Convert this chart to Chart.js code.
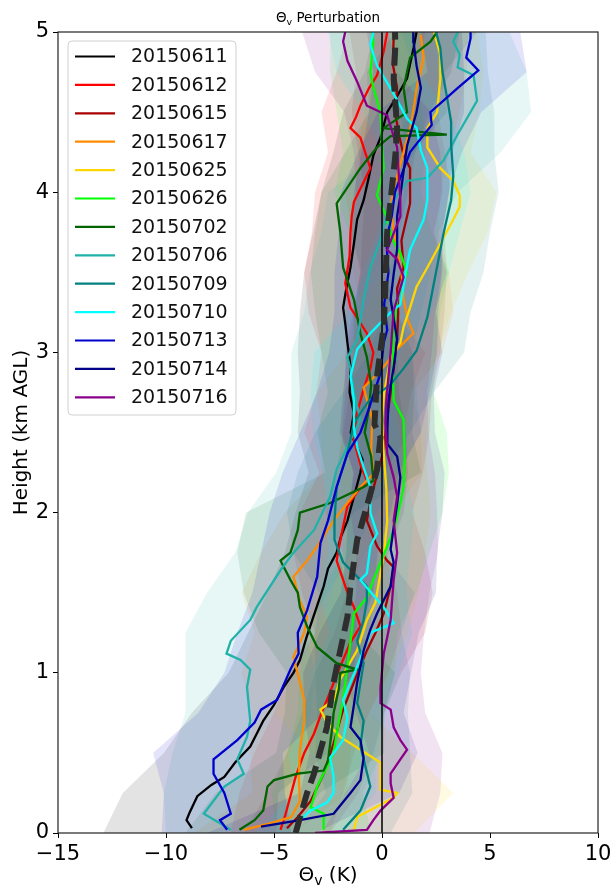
<!DOCTYPE html>
<html>
<head>
<meta charset="utf-8">
<script src="https://cdn.jsdelivr.net/npm/chart.js@4.4.1/dist/chart.umd.min.js"></script>
<style>
  html, body { margin: 0; padding: 0; background: #fff; }
</style>
</head>
<body>
<canvas id="profile" width="612" height="885"></canvas>
<script>
// series names / colours
var names = ["20150611", "20150612", "20150615", "20150617", "20150625", "20150626", "20150702",
             "20150706", "20150709", "20150710", "20150713", "20150714", "20150716"];
var colors = ["#000000", "#ff0000", "#a80000", "#ff8c00", "#ffd700", "#00ff00", "#006400",
              "#20b2aa", "#008080", "#00ffff", "#0000cd", "#00008b", "#8b008b"];

// profiles: [theta_v perturbation (K), height (km)]
var p20150611 = [[-8.8,0.03],[-9.05,0.08],[-8.9,0.13],[-8.55,0.23],[-7.9,0.3],[-7.3,0.35],[-6.8,0.44],[-6.1,0.54],[-5.8,0.62],[-5.5,0.7],[-5.0,0.8],[-4.55,0.91],[-4.1,1.0],[-3.8,1.08],[-3.5,1.22],[-3.1,1.38],[-2.7,1.54],[-2.5,1.65],[-2.1,1.75],[-1.9,1.85],[-1.6,1.95],[-1.3,2.1],[-1.0,2.25],[-0.9,2.33],[-1.2,2.42],[-1.45,2.5],[-1.3,2.62],[-1.5,2.75],[-1.45,2.9],[-1.6,3.06],[-1.7,3.18],[-1.8,3.28],[-1.65,3.4],[-1.46,3.53],[-1.3,3.68],[-1.15,3.83],[-0.85,3.95],[-0.6,4.1],[-0.4,4.23],[-0.07,4.34],[0.24,4.5],[0.7,4.6],[1.16,4.71],[1.3,4.8],[1.46,4.9],[1.6,5.0]];
var p20150612 = [[-4.7,0.02],[-4.5,0.1],[-4.2,0.25],[-4.0,0.35],[-3.6,0.5],[-3.15,0.62],[-2.8,0.75],[-2.55,0.83],[-2.2,0.95],[-1.93,1.04],[-1.46,1.19],[-1.0,1.29],[-1.3,1.41],[-1.6,1.5],[-2.1,1.7],[-1.9,1.85],[-1.6,2.04],[-1.2,2.12],[-0.7,2.2],[-1.0,2.3],[-1.3,2.45],[-1.2,2.6],[-0.85,2.77],[-0.54,2.9],[-0.4,3.0],[-0.7,3.12],[-1.46,3.28],[-1.7,3.43],[-1.5,3.6],[-1.46,3.75],[-1.4,3.85],[-1.3,3.94],[-0.9,4.05],[-0.54,4.15],[-1.0,4.34],[-1.46,4.4],[-1.2,4.47],[-1.0,4.54],[-0.6,4.65],[-0.23,4.73],[0.08,4.88],[0.24,5.0]];
var p20150615 = [[-4.4,0.03],[-3.9,0.1],[-3.3,0.2],[-2.7,0.37],[-2.24,0.56],[-1.8,0.77],[-1.3,0.94],[-0.7,1.14],[-0.3,1.25],[0.08,1.37],[0.4,1.54],[0.54,1.66],[0.24,1.7],[-0.23,1.79],[-0.7,1.95],[-0.5,2.1],[-0.2,2.25],[0.1,2.4],[0.2,2.55],[0.35,2.7],[0.5,2.85],[0.7,3.08],[0.75,3.25],[0.7,3.4],[1.0,3.53],[0.9,3.7],[1.16,3.85],[1.3,3.93],[1.3,4.15],[1.0,4.23],[0.8,4.35],[0.6,4.5],[0.7,4.65],[0.5,4.8],[0.54,4.96]];
var p20150617 = [[-6.4,0.02],[-5.2,0.06],[-4.2,0.1],[-3.8,0.2],[-3.85,0.35],[-3.8,0.52],[-3.6,0.7],[-3.6,0.83],[-3.8,0.94],[-4.1,1.1],[-3.6,1.25],[-3.47,1.35],[-3.8,1.45],[-4.1,1.6],[-3.47,1.7],[-3.0,1.79],[-2.24,1.95],[-1.6,2.06],[-1.0,2.16],[-0.4,2.24],[-0.5,2.4],[-0.45,2.58],[-0.85,2.78],[0.08,2.91],[0.7,3.02],[1.46,3.12],[1.2,3.2],[1.0,3.33],[0.9,3.5],[0.7,3.64],[0.5,3.8],[0.4,3.92],[0.6,4.05],[0.9,4.2],[1.3,4.4],[1.5,4.55],[1.6,4.65],[1.93,4.84],[1.8,4.98]];
var p20150625 = [[-1.3,0.02],[-1.15,0.1],[0.54,0.22],[0.7,0.25],[-0.07,0.27],[-0.07,0.44],[-1.0,0.52],[-1.93,0.6],[-2.55,0.69],[-2.85,0.77],[-2.24,0.83],[-1.93,0.96],[-1.15,1.14],[-0.7,1.33],[-0.3,1.44],[-0.1,1.6],[0.1,1.75],[0.24,1.95],[0.2,2.15],[0.08,2.37],[0.0,2.58],[0.1,2.75],[0.4,2.97],[0.85,3.06],[1.0,3.16],[1.3,3.28],[1.6,3.41],[2.1,3.53],[2.7,3.68],[3.3,3.83],[3.6,3.91],[3.6,3.98],[3.3,4.07],[2.7,4.15],[2.1,4.28],[2.1,4.4],[2.55,4.5],[2.7,4.71],[2.7,4.86],[2.4,5.0]];
var p20150626 = [[-2.7,0.02],[-2.7,0.12],[-3.3,0.16],[-3.0,0.29],[-2.6,0.4],[-2.24,0.5],[-2.1,0.62],[-1.8,0.83],[-1.6,1.04],[-1.3,1.37],[-1.0,1.42],[-0.7,1.47],[-0.4,1.58],[0.24,1.79],[0.54,1.89],[0.85,2.06],[1.0,2.16],[1.05,2.35],[1.0,2.58],[0.54,2.7],[0.5,2.9],[0.54,3.12],[0.7,3.33],[1.16,3.5],[0.85,3.62],[0.5,3.7],[0.2,3.85],[-0.23,3.98],[0.08,4.15],[0.0,4.3],[-0.07,4.5],[-0.4,4.65],[-0.54,4.75],[-0.4,4.94],[-0.45,5.0]];
var p20150702 = [[-6.6,0.02],[-5.9,0.08],[-5.5,0.14],[-5.3,0.29],[-5.0,0.33],[-3.9,0.37],[-2.7,0.39],[-2.5,0.45],[-2.4,0.56],[-2.3,0.66],[-2.24,0.75],[-2.0,0.9],[-1.93,1.0],[-1.15,1.02],[-2.1,1.06],[-3.0,1.16],[-3.47,1.29],[-3.8,1.41],[-3.9,1.5],[-4.24,1.58],[-4.7,1.7],[-4.24,1.75],[-3.9,1.89],[-3.8,2.0],[-2.4,2.06],[-0.85,2.16],[-0.4,2.2],[-0.5,2.35],[-0.8,2.5],[-0.6,2.65],[-0.5,2.8],[-0.7,2.97],[-1.0,3.12],[-1.3,3.33],[-1.8,3.53],[-1.93,3.75],[-2.1,3.93],[-1.0,4.15],[-0.23,4.28],[0.4,4.35],[3.0,4.36],[0.08,4.4],[1.16,4.5],[1.0,4.65],[1.3,4.84],[2.24,4.94],[2.55,5.0]];
var p20150706 = [[-7.0,0.02],[-8.25,0.12],[-7.3,0.29],[-6.4,0.37],[-6.7,0.46],[-6.25,0.6],[-6.1,0.7],[-6.25,0.91],[-6.1,1.02],[-6.55,1.08],[-7.2,1.12],[-7.0,1.2],[-6.1,1.33],[-5.8,1.41],[-4.7,1.64],[-4.1,1.75],[-3.15,1.89],[-2.4,2.1],[-2.1,2.27],[-1.46,2.45],[-1.0,2.58],[-1.3,2.75],[-1.46,2.9],[-1.6,2.97],[-1.15,3.08],[-0.85,3.33],[-0.54,3.53],[-0.07,3.7],[0.3,3.9],[1.16,4.07],[2.1,4.09],[2.86,4.2],[3.5,4.36],[4.4,4.57],[4.24,4.73],[3.5,4.78],[3.6,4.86],[3.3,4.94],[3.5,5.0]];
var p20150709 = [[-1.8,0.02],[-1.0,0.14],[-0.54,0.29],[-0.85,0.46],[-1.0,0.54],[-0.85,0.7],[-1.15,0.81],[-0.85,1.06],[-1.15,1.2],[-0.85,1.33],[-0.7,1.45],[-0.7,1.54],[-1.15,1.6],[-1.8,1.69],[-2.2,1.83],[-2.2,1.95],[-2.1,2.16],[-1.6,2.37],[-1.3,2.56],[-0.6,2.7],[0.4,2.8],[1.0,2.9],[1.6,3.01],[2.1,3.22],[2.4,3.43],[2.86,3.75],[3.2,3.95],[3.3,4.1],[3.2,4.3],[3.2,4.44],[3.0,4.6],[2.8,4.75],[2.7,4.9],[2.5,5.0]];
var p20150710 = [[-3.9,0.02],[-3.8,0.08],[-3.3,0.14],[-2.55,0.19],[-2.24,0.25],[-2.24,0.35],[-2.4,0.47],[-1.8,0.58],[-1.6,0.72],[-1.8,0.83],[-1.15,1.04],[-0.54,1.25],[0.54,1.31],[0.08,1.41],[-0.5,1.5],[-1.0,1.58],[-0.7,1.62],[-0.54,1.79],[-0.23,1.87],[-0.54,2.0],[-0.54,2.16],[-0.85,2.28],[-1.15,2.41],[-1.3,2.53],[-1.3,2.7],[-1.46,2.85],[-1.15,3.02],[-0.54,3.12],[0.4,3.25],[0.85,3.3],[1.1,3.5],[1.3,3.64],[1.93,3.83],[2.1,3.95],[2.1,4.15],[1.8,4.26],[1.6,4.4],[1.16,4.46],[0.6,4.6],[-0.23,4.79],[-0.54,4.92],[-0.4,5.0]];
var p20150713 = [[-7.17,0.02],[-7.5,0.08],[-7.0,0.12],[-7.3,0.25],[-7.8,0.37],[-7.8,0.46],[-6.7,0.58],[-5.9,0.69],[-5.6,0.77],[-4.86,0.83],[-4.24,1.02],[-3.86,1.12],[-3.9,1.25],[-3.47,1.39],[-3.0,1.6],[-2.85,1.81],[-2.5,1.95],[-2.1,2.16],[-1.6,2.37],[-1.0,2.5],[-0.6,2.65],[-0.07,2.87],[0.08,3.06],[0.24,3.14],[0.1,3.3],[0.3,3.5],[0.2,3.7],[0.45,3.85],[0.6,4.0],[1.3,4.25],[2.3,4.42],[2.24,4.5],[3.5,4.65],[4.46,4.76],[3.9,4.84],[4.1,4.96],[4.1,5.0]];
var p20150714 = [[-5.6,0.04],[-3.8,0.08],[-2.24,0.12],[-1.46,0.25],[-1.0,0.33],[-0.85,0.47],[-1.0,0.58],[-1.46,0.66],[-1.3,0.8],[-1.15,0.94],[-0.85,1.14],[-0.54,1.27],[-0.23,1.37],[0.4,1.54],[0.54,1.69],[0.4,1.77],[0.54,1.91],[0.7,2.05],[0.85,2.22],[0.7,2.35],[0.24,2.43],[0.25,2.52],[0.3,2.7],[0.54,2.91],[0.7,3.08],[0.4,3.33],[0.55,3.5],[0.7,3.64],[0.7,3.85],[0.85,3.98],[1.0,4.13],[1.16,4.29],[1.6,4.5],[1.8,4.65],[1.6,4.79],[1.46,4.94],[1.45,5.0]];
var p20150716 = [[-3.1,0.0],[-0.7,0.02],[-0.4,0.08],[-0.07,0.14],[0.54,0.22],[0.4,0.31],[0.4,0.37],[0.85,0.46],[1.16,0.52],[0.85,0.58],[0.54,0.66],[0.4,0.77],[-0.07,0.81],[-0.07,0.91],[0.08,1.12],[0.24,1.22],[0.4,1.33],[0.54,1.58],[0.7,1.75],[0.54,1.95],[0.7,2.1],[0.54,2.22],[0.24,2.37],[0.16,2.56],[0.2,2.7],[0.4,3.0],[0.54,3.26],[1.0,3.47],[0.7,3.58],[0.24,3.64],[0.85,3.85],[0.85,3.95],[0.7,4.28],[0.24,4.48],[-0.7,4.54],[-1.15,4.69],[-1.6,4.82],[-1.8,4.94],[-1.7,5.0]];
var pMean = [[-4.0,0.0],[-3.47,0.25],[-3.15,0.37],[-2.55,0.66],[-2.24,0.94],[-1.93,1.14],[-1.6,1.35],[-1.46,1.54],[-1.15,1.83],[-0.7,2.04],[-0.23,2.27],[-0.07,2.47],[-0.35,2.55],[-0.23,2.85],[0.08,3.16],[0.16,3.43],[0.24,3.75],[0.4,3.95],[0.62,4.23],[0.7,4.4],[0.54,4.71],[0.62,4.92],[0.6,5.0]];
var profiles = [p20150611, p20150612, p20150615, p20150617, p20150625, p20150626, p20150702,
                p20150706, p20150709, p20150710, p20150713, p20150714, p20150716];

// shaded spread: centre and half width at these heights
var bandLevels = [0, 0.25, 0.5, 0.75, 1, 1.25, 1.5, 1.75, 2, 2.25, 2.5, 2.75, 3, 3.25, 3.5, 3.75, 4, 4.25, 4.5, 4.75, 5];
var bandMid = [
  [-8.9,-8.4,-6.3,-5.3,-4.1,-3.4,-2.8,-2.1,-1.5,-1.1,-1.4,-1.5,-1.6,-1.8,-1.5,-1.2,-0.8,-0.35,0.2,1.2,1.6],
  [-4.7,-4.2,-3.6,-2.8,-2.0,-1.1,-1.5,-2.0,-1.6,-0.9,-1.3,-0.85,-0.4,-1.4,-1.7,-1.45,-1.2,-0.8,-1.0,-0.2,0.2],
  [-4.4,-3.2,-2.4,-1.8,-1.1,-0.1,0.35,0.1,-0.6,-0.1,0.2,0.4,0.7,0.8,1.0,1.0,1.2,0.9,0.6,0.7,0.5],
  [-6.4,-3.8,-3.8,-3.6,-4.0,-3.6,-4.0,-3.2,-2.0,-0.45,-0.5,-0.8,0.6,1.2,0.9,0.6,0.5,1.0,1.4,1.8,1.8],
  [-1.3,0.7,-0.9,-2.8,-1.8,-0.9,-0.3,0.1,0.25,0.1,0.0,0.1,0.6,1.2,2.0,3.0,3.6,2.2,2.5,2.7,2.4],
  [-2.7,-3.0,-2.2,-1.9,-1.6,-1.4,-0.6,0.2,0.7,1.0,1.0,0.5,0.5,0.7,1.1,0.4,-0.2,0.1,-0.1,-0.5,-0.4],
  [-6.6,-5.3,-2.4,-2.2,-1.9,-3.4,-3.9,-4.4,-3.8,-0.4,-0.8,-0.5,-0.7,-1.2,-1.6,-1.5,-1.2,-0.1,1.2,1.1,2.5],
  [-7.0,-7.3,-6.7,-6.2,-6.1,-6.3,-5.3,-4.1,-3.2,-2.1,-1.2,-1.3,-1.4,-0.9,-0.55,-0.1,0.5,2.7,4.2,4.1,3.4],
  [-1.8,-0.6,-0.9,-0.9,-0.9,-1.1,-0.7,-2.0,-2.2,-1.9,-0.9,0.3,1.6,2.1,2.5,2.9,3.2,3.2,3.0,2.8,2.6],
  [-3.9,-2.2,-2.3,-1.7,-1.2,-0.5,-0.9,-0.6,-0.5,-0.85,-1.2,-1.4,-1.15,0.4,1.1,1.7,2.1,1.9,1.1,-0.2,-0.5],
  [-7.2,-7.3,-7.6,-5.6,-4.3,-3.9,-3.2,-2.9,-2.4,-1.9,-1.0,-0.4,0.05,0.2,0.3,0.4,0.6,1.3,2.2,4.4,4.1],
  [-5.6,-1.5,-0.85,-1.3,-1.15,-0.6,0.3,0.45,0.6,0.8,0.25,0.3,0.6,0.4,0.55,0.7,0.9,1.15,1.6,1.7,1.5],
  [-0.3,0.5,1.1,0.4,0.0,0.25,0.5,0.7,0.55,0.55,0.15,0.2,0.3,0.55,1.0,0.5,0.8,0.7,0.25,-1.2,-1.7]
];
var bandHalf = [
  [4.0,3.6,3.8,3.5,3.0,2.8,2.5,2.4,2.5,2.3,2.5,2.3,2.3,2.0,2.1,2.0,2.0,1.9,2.0,2.0,2.0],
  [2.3,2.4,2.3,2.2,2.3,2.0,2.2,2.1,2.2,2.0,2.3,2.2,2.4,2.0,1.9,1.8,1.9,1.7,1.8,1.9,1.8],
  [2.0,2.1,2.0,1.9,2.0,2.1,2.0,1.9,2.0,2.0,2.0,1.9,2.0,2.1,2.0,1.9,2.0,2.0,2.0,1.9,2.0],
  [2.3,2.2,2.3,2.4,2.5,2.3,2.5,2.4,2.5,2.3,2.3,2.2,2.2,2.1,2.2,2.0,2.2,2.1,2.2,2.1,2.2],
  [2.8,2.6,2.3,2.2,2.2,2.1,2.0,1.9,2.0,2.0,2.0,1.9,2.0,2.0,2.0,1.9,1.7,1.9,2.0,2.0,2.0],
  [2.2,2.1,2.2,2.0,2.2,2.1,2.2,2.0,2.1,2.1,2.0,1.9,2.0,2.0,2.0,1.9,2.0,1.9,2.0,1.9,2.0],
  [2.5,2.4,2.5,2.3,2.5,2.3,2.5,2.3,2.5,2.2,2.2,2.0,2.1,1.9,1.7,1.6,1.6,1.6,1.8,1.8,1.9],
  [3.0,2.8,3.0,2.9,3.0,2.8,2.8,2.7,3.0,2.8,3.0,2.9,2.8,2.7,2.8,2.7,3.0,2.8,2.7,2.6,2.5],
  [2.2,2.0,2.2,2.1,2.2,2.0,2.2,2.1,2.2,2.0,2.2,2.1,2.2,2.0,2.2,2.1,2.2,2.0,2.2,2.1,2.2],
  [2.0,1.9,2.0,1.9,2.0,1.9,2.0,1.9,2.0,1.9,2.0,1.9,2.0,1.9,2.0,1.9,2.0,1.9,2.0,1.9,2.0],
  [3.0,2.8,3.0,2.9,3.0,2.8,2.8,2.7,2.8,2.7,2.8,2.6,2.5,2.4,2.5,2.4,2.5,2.4,2.4,2.3,2.3],
  [2.5,2.3,2.5,2.3,2.5,2.3,2.2,2.1,2.2,2.1,2.2,2.1,2.2,2.1,2.2,2.1,2.2,2.1,2.2,2.1,2.2],
  [2.5,2.2,1.7,1.6,1.8,1.7,1.7,1.9,2.0,1.9,2.0,1.9,2.0,1.9,2.0,1.9,2.0,2.0,2.0,1.9,2.0]
];

var xTicks = [-15, -10, -5, 0, 5, 10];
var yTicks = [0, 1, 2, 3, 4, 5];

Chart.defaults.font.family = "'DejaVu Sans', sans-serif";
Chart.defaults.color = "#000";

function rgba(hex, a) {
  var n = parseInt(hex.slice(1), 16);
  return "rgba(" + (n >> 16) + "," + ((n >> 8) & 255) + "," + (n & 255) + "," + a + ")";
}
function toXY(arr) {
  return arr.map(function (p) { return {x: p[0], y: p[1]}; });
}
function bandShape(mid, half) {
  var pts = [];
  for (var i = 0; i < bandLevels.length; i++) pts.push({x: mid[i] - half[i], y: bandLevels[i]});
  for (var j = bandLevels.length - 1; j >= 0; j--) pts.push({x: mid[j] + half[j], y: bandLevels[j]});
  return pts;
}

var datasets = [];
// mean profile on top
datasets.push({label: "mean", data: toXY(pMean), showLine: true, borderColor: "#2e2e2e",
  borderWidth: 6, borderDash: [18, 8], pointRadius: 0, fill: false, order: 0});
datasets.push({label: "zero", data: [{x: 0, y: 0}, {x: 0, y: 5}], showLine: true, borderColor: "#000",
  borderWidth: 1.5, pointRadius: 0, fill: false, order: 1});
for (var i = 0; i < names.length; i++) {
  datasets.push({label: names[i], data: toXY(profiles[i]), showLine: true, borderColor: colors[i],
    borderWidth: 2.3, pointRadius: 0, fill: false, order: 40 - i});
}
for (var k = 0; k < names.length; k++) {
  datasets.push({label: "band" + k, data: bandShape(bandMid[k], bandHalf[k]), showLine: true,
    borderWidth: 0, borderColor: "rgba(0,0,0,0)", backgroundColor: rgba(colors[k], 0.11),
    pointRadius: 0, fill: "shape", order: 100 - k});
}

function subText(ctx, main, sub, rest, cx, base, size) {
  ctx.font = size + "px 'DejaVu Sans'";
  var w1 = ctx.measureText(main).width, w3 = ctx.measureText(rest).width;
  ctx.font = (size * 0.7) + "px 'DejaVu Sans'";
  var w2 = ctx.measureText(sub).width;
  var x = cx - (w1 + w2 + w3) / 2;
  ctx.fillStyle = "#000";
  ctx.textAlign = "left";
  ctx.textBaseline = "alphabetic";
  ctx.font = size + "px 'DejaVu Sans'";
  ctx.fillText(main, x, base);
  ctx.fillText(rest, x + w1 + w2, base);
  ctx.font = (size * 0.7) + "px 'DejaVu Sans'";
  ctx.fillText(sub, x + w1, base + size * 0.22);
}

var decorations = {
  id: "decorations",
  afterDraw: function (chart) {
    var ctx = chart.ctx, a = chart.chartArea;
    ctx.save();
    // frame
    ctx.strokeStyle = "#222";
    ctx.lineWidth = 1.2;
    ctx.strokeRect(a.left, a.top, a.right - a.left, a.bottom - a.top);
    // title and x label with subscripts
    var cx = (a.left + a.right) / 2;
    subText(ctx, "\u0398", "v", " Perturbation", cx, 22, 13.5);
    subText(ctx, "\u0398", "v", " (K)", cx, 881, 20);
    // legend
    var lx = 68, ly = 41, lw = 168, lh = 374, r = 4;
    ctx.beginPath();
    ctx.moveTo(lx + r, ly);
    ctx.arcTo(lx + lw, ly, lx + lw, ly + lh, r);
    ctx.arcTo(lx + lw, ly + lh, lx, ly + lh, r);
    ctx.arcTo(lx, ly + lh, lx, ly, r);
    ctx.arcTo(lx, ly, lx + lw, ly, r);
    ctx.closePath();
    ctx.fillStyle = "rgba(255,255,255,0.85)";
    ctx.fill();
    ctx.strokeStyle = "#d0d0d0";
    ctx.lineWidth = 1;
    ctx.stroke();
    ctx.font = "19px 'DejaVu Sans'";
    ctx.textBaseline = "middle";
    ctx.textAlign = "left";
    for (var i = 0; i < names.length; i++) {
      var y = 56.5 + i * 28.4;
      ctx.strokeStyle = colors[i];
      ctx.lineWidth = 2.2;
      ctx.beginPath();
      ctx.moveTo(75, y);
      ctx.lineTo(115, y);
      ctx.stroke();
      ctx.fillStyle = "#111";
      ctx.fillText(names[i], 131, y + 1);
    }
    ctx.restore();
  }
};

new Chart(document.getElementById("profile"), {
  type: "scatter",
  data: {datasets: datasets},
  options: {
    responsive: false,
    animation: false,
    events: [],
    layout: {padding: {left: 0, right: 14, top: 32, bottom: 0}},
    plugins: {legend: {display: false}, title: {display: false}, tooltip: {enabled: false}},
    scales: {
      x: {
        type: "linear", min: -15, max: 10,
        afterFit: function (s) { s.height = 52; s.paddingLeft = 0; s.paddingRight = 0; },
        afterBuildTicks: function (s) { s.ticks = xTicks.map(function (v) { return {value: v}; }); },
        ticks: {font: {size: 21}, padding: 4, maxRotation: 0,
          callback: function (v) { return String(v).replace("-", "\u2212"); }},
        grid: {drawOnChartArea: false, drawTicks: true, tickLength: 5, color: "#000"},
        border: {display: false}
      },
      y: {
        type: "linear", min: 0, max: 5,
        afterFit: function (s) { s.width = 58; s.paddingTop = 0; s.paddingBottom = 0; },
        afterBuildTicks: function (s) { s.ticks = yTicks.map(function (v) { return {value: v}; }); },
        ticks: {font: {size: 21}, padding: 4},
        grid: {drawOnChartArea: false, drawTicks: true, tickLength: 5, color: "#000"},
        border: {display: false},
        title: {display: true, text: "Height (km AGL)", font: {size: 20}, padding: {top: 10, bottom: 0}}
      }
    }
  },
  plugins: [decorations]
});
</script>
</body>
</html>
